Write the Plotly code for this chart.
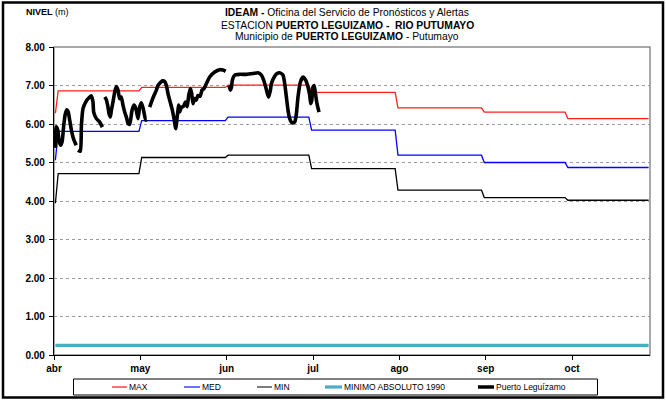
import plotly.graph_objects as go

# ---------------- data ----------------
month_labels = ["abr", "may", "jun", "jul", "ago", "sep", "oct"]
# day index (days since 1 Apr) where each month begins
month_start_day = [0, 30, 61, 91, 122, 153, 183]
n_days = 214

# monthly reference levels (first value = previous month, March)
max_levels = [6.28, 6.86, 6.95, 7.01, 6.82, 6.42, 6.31, 6.14]
med_levels = [5.06, 5.81, 6.09, 6.18, 5.84, 5.19, 5.00, 4.87]
min_levels = [3.94, 4.71, 5.13, 5.19, 4.84, 4.28, 4.09, 4.02]
minimo_absoluto_1990 = 0.25

# observed levels, Puerto Leguízamo (day since 1 Apr, level m); None = gap
obs_day = [
    0.00, 0.29, 0.83, 1.36, 1.90, 2.44, 2.98, 3.52, 4.06, 4.60, 5.13, 5.85, 6.57, 7.47, None,
    8.12, 8.98, 9.34, 9.91, 10.88, 12.06, 12.93, 13.50, 13.75, 14.72, 15.91, 16.88, None,
    17.70, 18.24, 18.89, 19.25, 19.75, 20.11, 20.68, 21.29, 21.90, 22.48, 23.04, 23.63,
    24.27, 24.88, 25.60, 26.07, 26.68, 27.50, 28.22, 28.83, 29.66, 30.27, 30.88, 31.53,
    32.42, 32.78, None,
    33.86, 34.47, 35.40, 36.27, 36.84, 38.06, 38.53, 39.25, 39.86, 40.43, 41.04, 41.87,
    42.59, 43.20, 43.81, 44.27, 44.63, 45.24, 45.89, 46.68, 47.33, 47.86, 48.47, 48.94,
    49.41, 50.02, 50.56, 51.20, 51.99, 52.64, 53.36, 54.22, 55.40, 57.20, 58.99, 60.18,
    61.15, None,
    62.33, 62.84, 63.20, 63.55, 64.38, 66.18, 68.58, 70.95, 72.75, 73.97, 74.79, 75.51,
    76.12, 76.59, 77.20, 77.56, 78.74, 79.57, 80.54, 81.72, 82.33, 82.94, 83.52, 84.13,
    84.96, 85.92, 86.54, 87.11, 87.97, 88.90, 89.86, 90.70, 91.31, 91.67, 92.03, 92.50,
    92.93, 93.46, 93.93, 94.65,
]
obs_level = [
    5.38, 5.93, 5.85, 5.55, 5.45, 5.55, 5.95, 6.25, 6.37, 6.32, 6.10, 5.80, 5.60, 5.45, None,
    5.32, 5.29, 5.96, 6.40, 6.57, 6.68, 6.73, 6.57, 6.31, 6.14, 6.05, 5.92, None,
    6.70, 6.64, 6.44, 6.27, 6.18, 6.36, 6.57, 6.83, 6.97, 6.88, 6.66, 6.70,
    6.49, 6.31, 6.15, 6.01, 5.99, 6.35, 6.49, 6.42, 6.14, 6.44, 6.55, 6.40,
    6.10, 6.12, None,
    6.44, 6.57, 6.74, 6.88, 7.00, 7.10, 7.12, 7.10, 7.00, 6.79, 6.62, 6.40,
    6.14, 5.88, 6.23, 6.49, 6.31, 6.44, 6.45, 6.57, 6.45, 6.74, 6.92, 6.79,
    6.53, 6.66, 6.62, 6.74, 6.72, 6.88, 6.92, 7.05, 7.22, 7.35, 7.41, 7.40,
    7.37, None,
    7.00, 6.88, 6.95, 7.14, 7.27, 7.29, 7.29, 7.31, 7.33, 7.27, 7.14, 6.96,
    6.79, 6.70, 6.88, 7.05, 7.24, 7.31, 7.33, 7.27, 7.05, 6.70, 6.36, 6.14,
    6.03, 6.05, 6.27, 6.70, 7.09, 7.22, 7.14, 6.96, 6.75, 6.53, 6.60, 6.96,
    7.00, 6.75, 6.53, 6.31,
]

y_ticks = [0, 1, 2, 3, 4, 5, 6, 7, 8]

# ---------------- build daily step series ----------------
days = list(range(n_days))


def daily(levels):
    out = []
    for d in days:
        k = sum(1 for s in month_start_day if s <= d - 1)
        out.append(levels[k])
    return out


max_daily = daily(max_levels)
med_daily = daily(med_levels)
min_daily = daily(min_levels)
minimo_daily = [minimo_absoluto_1990 for _ in days]

fig = go.Figure()
fig.add_trace(go.Scatter(x=days, y=minimo_daily, mode="lines", name="MINIMO ABSOLUTO 1990",
                         line=dict(color="#4BACC6", width=3.2), showlegend=False))
fig.add_trace(go.Scatter(x=days, y=min_daily, mode="lines", name="MIN",
                         line=dict(color="#000000", width=1.3), showlegend=False))
fig.add_trace(go.Scatter(x=days, y=med_daily, mode="lines", name="MED",
                         line=dict(color="#0000FF", width=1.3), showlegend=False))
fig.add_trace(go.Scatter(x=days, y=max_daily, mode="lines", name="MAX",
                         line=dict(color="#FF2020", width=1.3), showlegend=False))
fig.add_trace(go.Scatter(x=obs_day, y=obs_level, mode="lines", name="Puerto Leguízamo",
                         line=dict(color="#000000", width=3.6, shape="spline", smoothing=0.5),
                         connectgaps=False, showlegend=False))

# ---------------- layout ----------------
L, R, T, B = 54, 16, 47, 45
W, H = 666, 400
PW, PH = W - L - R, H - T - B


def px_x(px):
    return (px - L) / PW


def px_y(py):
    return (H - B - py) / PH


sans = "Liberation Sans, Arial, sans-serif"

tick_days = [month_start_day[0] - 0.5 + 31 * i for i in range(len(month_labels))]

fig.update_layout(
    width=W, height=H,
    margin=dict(l=L, r=R, t=T, b=B),
    paper_bgcolor="white", plot_bgcolor="white",
    showlegend=False,
    xaxis=dict(
        range=[-0.5, n_days - 0.5], tickmode="array", tickvals=tick_days, ticktext=month_labels,
        showgrid=False, zeroline=False, showline=True, linecolor="black", linewidth=1.2,
        ticks="outside", ticklen=4, tickcolor="black", tickwidth=1,
        tickfont=dict(family=sans, size=10, color="black", weight="bold"),
    ),
    yaxis=dict(
        range=[0, 8], tickmode="array", tickvals=y_ticks, tickformat=".2f",
        showgrid=True, gridcolor="#9a9a9a", griddash="dot", gridwidth=1,
        zeroline=False, showline=True, linecolor="black", linewidth=1.2,
        ticks="outside", ticklen=4, tickcolor="black", tickwidth=1,
        ticklabelstandoff=2,
        tickfont=dict(family=sans, size=10, color="black", weight="bold"),
    ),
)

shapes = []
# plot area frame (gray top/right)
shapes.append(dict(type="rect", xref="paper", yref="paper", x0=0, x1=1, y0=0, y1=1,
                   line=dict(color="#8c8c8c", width=1.5), layer="below"))
# outer black border
shapes.append(dict(type="rect", xref="paper", yref="paper",
                   x0=px_x(3), x1=px_x(663), y0=px_y(397.5), y1=px_y(2.5),
                   line=dict(color="black", width=2.5)))
# legend box
shapes.append(dict(type="rect", xref="paper", yref="paper",
                   x0=px_x(73.5), x1=px_x(597.5), y0=px_y(395), y1=px_y(379),
                   line=dict(color="black", width=1), fillcolor="white"))

legend_items = [
    ("MAX", "#FF4040", 1.5, 112, 127),
    ("MED", "#4040FF", 1.5, 184, 200),
    ("MIN", "#505050", 1.5, 257, 272),
    ("MINIMO ABSOLUTO 1990", "#4BACC6", 3.2, 325, 342),
    ("Puerto Leguízamo", "#000000", 3.5, 478, 494),
]
annotations = []
ly = px_y(387)
for name, color, width, x0, x1 in legend_items:
    shapes.append(dict(type="line", xref="paper", yref="paper", x0=px_x(x0), x1=px_x(x1),
                       y0=ly, y1=ly, line=dict(color=color, width=width)))
    annotations.append(dict(text=name, xref="paper", yref="paper", x=px_x(x1), y=ly,
                            xanchor="left", yanchor="middle", showarrow=False,
                            font=dict(family=sans, size=8.5, color="black")))

cx = px_x(347)
titles = [
    ("<b>IDEAM - </b>Oficina del Servicio de Pronósticos y Alertas", 12),
    ("ESTACION <b>PUERTO LEGUIZAMO -  RIO PUTUMAYO</b>", 25),
    ("Municipio de <b>PUERTO LEGUIZAMO</b> - Putumayo", 37),
]
for txt, py in titles:
    annotations.append(dict(text=txt, xref="paper", yref="paper", x=cx, y=px_y(py),
                            xanchor="center", yanchor="middle", showarrow=False,
                            font=dict(family=sans, size=10.3, color="black")))
annotations.append(dict(text="<b>NIVEL</b> (m)", xref="paper", yref="paper", x=px_x(24),
                        y=px_y(12), xanchor="left", yanchor="middle", showarrow=False,
                        font=dict(family=sans, size=9, color="black")))

fig.update_layout(shapes=shapes, annotations=annotations)

fig.write_html("out.html", config={"displayModeBar": False},
               post_script="document.body.style.margin='0';document.body.style.overflow='hidden';")
